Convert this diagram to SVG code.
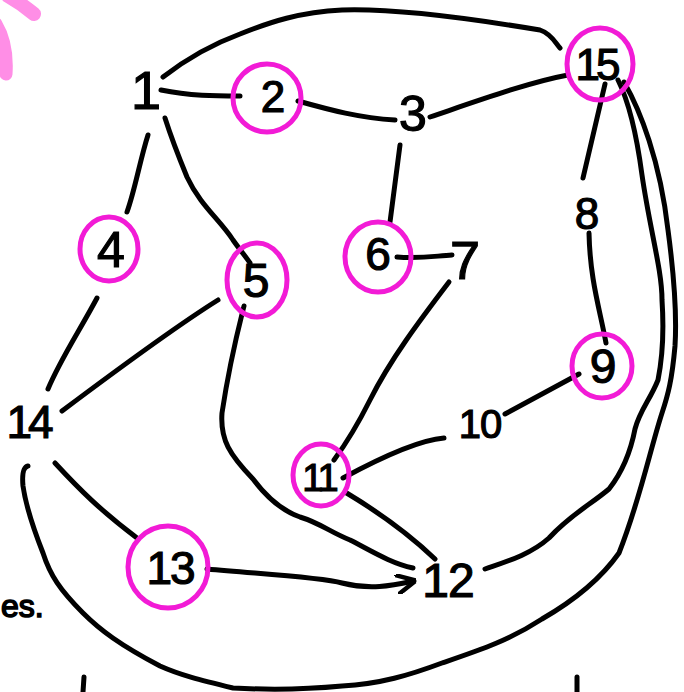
<svg xmlns="http://www.w3.org/2000/svg" width="684" height="692" viewBox="0 0 684 692">
<style>
.e{fill:none;stroke:#000;stroke-width:5;stroke-linecap:round;stroke-linejoin:round}
.c{fill:none;stroke:#f21bd6;stroke-width:5}
.t{font-family:"Liberation Sans","DejaVu Sans",sans-serif;fill:#000;text-anchor:middle;stroke:#000;stroke-width:1.2}
</style>
<defs>
<marker id="ah" viewBox="0 0 10 10" refX="9" refY="5" markerWidth="4" markerHeight="4" orient="auto" markerUnits="strokeWidth">
<path d="M0,0 L10,5 L0,10" fill="none" stroke="#000" stroke-width="2.2" stroke-linecap="round"/>
</marker>
</defs>
<rect width="684" height="692" fill="#fff"/>
<g id="decor">
<path d="M8,-4 Q22,4 34,14" fill="none" stroke="#ff8ee6" stroke-width="14" stroke-linecap="round"/>
<path d="M-4,24 Q8,44 6,74" fill="none" stroke="#ff8ee6" stroke-width="13" stroke-linecap="round"/>
<text x="1" y="617" class="t" style="text-anchor:start;font-size:32px;stroke-width:1.6">es.</text>
<path class="e" d="M84,677 L83,692"/>
<path class="e" d="M577,677 L577,692"/>
</g>
<g id="connectors">
<path class="e" d="M163,77 C185,60 210,45 240,34 C270,22 300,12 342,10 C400,8 480,20 540,30 C552,34 556,44 560,48"/>
<path class="e" d="M161,90 C190,96 215,96 240,96"/>
<path class="e" d="M298,101 C330,110 360,118 395,120"/>
<path class="e" d="M430,117 C480,100 530,82 568,75"/>
<path class="e" d="M400,145 L390,222"/>
<path class="e" d="M397,257 C420,259 435,256 452,255"/>
<path class="e" d="M449,282 C420,320 390,360 370,400 C355,430 345,445 334,460"/>
<path class="e" d="M605,84 L583,178"/>
<path class="e" d="M589,233 C590,280 600,310 606,343"/>
<path class="e" d="M579,374 L505,414"/>
<path class="e" d="M444,438 C420,440 380,458 343,478"/>
<path class="e" d="M345,492 C375,510 410,535 435,559"/>
<path class="e" d="M244,306 C238,330 230,360 222,413 C220,440 230,455 253,479 C265,495 280,510 300,517 C320,523 330,532 350,540 C370,550 390,563 413,568"/>
<path class="e" marker-end="url(#ah)" d="M207,569 C260,574 320,577 342,583 C370,590 390,586 414,581"/>
<path class="e" d="M137,538 C100,510 80,490 55,463"/>
<path class="e" d="M62,411 C110,375 170,330 218,300"/>
<path class="e" d="M48,389 C60,360 80,330 97,298"/>
<path class="e" d="M148,135 C140,160 135,190 127,212"/>
<path class="e" d="M165,118 C172,140 180,160 187,177 C200,205 220,220 233,240 C240,250 246,257 250,263"/>
<path class="e" d="M618,80 C628,100 636,130 642,175 C650,230 662,270 662,300 C664,330 662,360 658,380 C650,400 640,410 635,429 C630,455 620,475 609,489 C590,505 570,515 549,538 C530,555 505,562 485,569"/>
<path class="e" d="M624,82 C640,110 660,160 668,230 C676,290 676,330 675,346 C672,380 668,395 662,413 C650,450 640,500 619,553 C600,580 575,600 542,619 C510,640 480,650 442,663 C410,675 380,684 342,686 C300,690 270,690 233,688 C200,680 180,675 160,666 C120,645 100,630 83,613 C60,590 50,575 43,553 C30,520 25,500 23,486 C22,475 23,467 28,466"/>
</g>
<g id="n1"><text class="t" x="146" y="109" style="font-size:54px">1</text></g>
<g id="n2"><ellipse class="c" cx="267" cy="98" rx="34" ry="34"/><text class="t" x="273" y="112" style="font-size:44px">2</text></g>
<g id="n3"><text class="t" x="413" y="131" style="font-size:50px">3</text></g>
<g id="n4"><ellipse class="c" cx="109" cy="249" rx="29" ry="32"/><text class="t" x="111" y="267" style="font-size:50px">4</text></g>
<g id="n5"><ellipse class="c" cx="257" cy="280" rx="30" ry="37"/><text class="t" x="256" y="297" style="font-size:48px">5</text></g>
<g id="n6"><ellipse class="c" cx="378" cy="257" rx="33" ry="35"/><text class="t" x="378" y="270" style="font-size:46px">6</text></g>
<g id="n7"><text class="t" x="465" y="279" style="font-size:54px">7</text></g>
<g id="n8"><text class="t" x="587" y="229" style="font-size:44px">8</text></g>
<g id="n9"><ellipse class="c" cx="602" cy="366" rx="30" ry="32"/><text class="t" x="603" y="383" style="font-size:48px">9</text></g>
<g id="n10"><text class="t" x="480" y="438" style="font-size:40px;letter-spacing:-1px">10</text></g>
<g id="n11"><ellipse class="c" cx="321" cy="475" rx="28" ry="31"/><text class="t" x="319" y="491" style="font-size:38px;letter-spacing:-3px">11</text></g>
<g id="n12"><text class="t" x="448" y="597" style="font-size:48px;letter-spacing:-1px">12</text></g>
<g id="n13"><ellipse class="c" cx="168" cy="567" rx="40" ry="41"/><text class="t" x="170" y="584" style="font-size:46px;letter-spacing:-2px">13</text></g>
<g id="n14"><text class="t" x="28" y="438" style="font-size:46px;letter-spacing:-4px">14</text></g>
<g id="n15"><ellipse class="c" cx="600" cy="64" rx="33" ry="36"/><text class="t" x="596" y="80" style="font-size:44px;letter-spacing:-4px">15</text></g>
</svg>
